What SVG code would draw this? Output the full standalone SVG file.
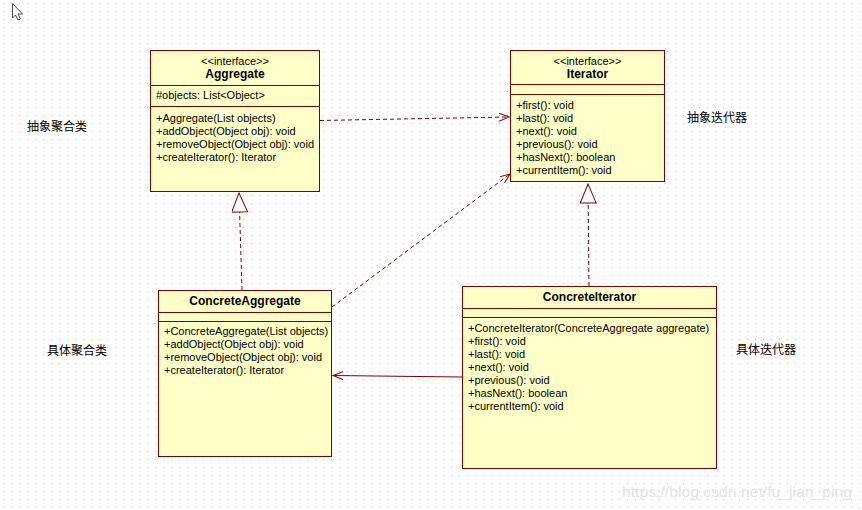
<svg xmlns="http://www.w3.org/2000/svg" width="862" height="510" viewBox="0 0 862 510">
<style>
.box{fill:#ffffc8;stroke:#800000;stroke-width:1}
.sep{stroke:#800000;stroke-width:1}
.t{font-family:"Liberation Sans",Arial,sans-serif;font-size:11px;fill:#000}
.b{font-weight:bold;text-anchor:middle;font-size:12px}
.c{text-anchor:middle}
.lbl{font-family:"Noto Sans CJK SC","Liberation Sans",sans-serif;font-size:12px;fill:#000}
.dash{fill:none;stroke:#800000;stroke-width:1;stroke-dasharray:4,3}
.solid{fill:none;stroke:#800000;stroke-width:1}
</style>
<defs>
<pattern id="grid" patternUnits="userSpaceOnUse" x="0" y="0" width="8" height="8">
<rect x="3" y="3" width="1" height="1" fill="#c4c4c4"/>
</pattern>
<marker id="open" markerUnits="userSpaceOnUse" markerWidth="12" markerHeight="10" refX="10" refY="4" orient="auto">
<path d="M0,0 L10,4 L0,8" fill="none" stroke="#800000" stroke-width="1"/>
</marker>
<marker id="tri" markerUnits="userSpaceOnUse" markerWidth="22" markerHeight="18" refX="20" refY="8" orient="auto">
<path d="M20,8 L1,0 L1,16 Z" fill="#ffffff" stroke="#800000" stroke-width="1"/>
</marker>
</defs>
<rect width="862" height="510" fill="#ffffff"/>
<rect width="862" height="510" fill="url(#grid)"/>
<polygon points="12.5,3.5 12.5,18 15.5,15 18,20 20.5,19 18,14 22.5,14" fill="#ffffff" stroke="#4a4a5a" stroke-width="1"/>

<g id="connectors">
<path class="dash" d="M320,120.5 L509,117" marker-end="url(#open)"/>
<path class="dash" d="M332,307 L510,174" marker-end="url(#open)"/>
<path class="dash" d="M242,290 L239,193" marker-end="url(#tri)"/>
<path class="dash" d="M589,286 L588,184" marker-end="url(#tri)"/>
<path class="solid" d="M462,377 L333,375.5" marker-end="url(#open)"/>
</g>

<g id="Aggregate">
<rect class="box" x="150.5" y="50.5" width="169" height="141"/>
<line class="sep" x1="150.5" y1="85.5" x2="319.5" y2="85.5"/>
<line class="sep" x1="150.5" y1="106.5" x2="319.5" y2="106.5"/>
<text class="t c" x="235" y="65">&lt;&lt;interface&gt;&gt;</text>
<text class="t b" x="235" y="77.5">Aggregate</text>
<text class="t" x="156" y="99">#objects: List&lt;Object&gt;</text>
<text class="t" x="156" y="121.5">+Aggregate(List objects)</text>
<text class="t" x="156" y="134.5">+addObject(Object obj): void</text>
<text class="t" x="156" y="147.5">+removeObject(Object obj): void</text>
<text class="t" x="156" y="160.5">+createIterator(): Iterator</text>
</g>

<g id="Iterator">
<rect class="box" x="510.5" y="50.5" width="154" height="131"/>
<line class="sep" x1="510.5" y1="84.5" x2="664.5" y2="84.5"/>
<line class="sep" x1="510.5" y1="94.5" x2="664.5" y2="94.5"/>
<text class="t c" x="587.5" y="65">&lt;&lt;interface&gt;&gt;</text>
<text class="t b" x="587.5" y="77.5">Iterator</text>
<text class="t" x="516" y="108.5">+first(): void</text>
<text class="t" x="516" y="121.5">+last(): void</text>
<text class="t" x="516" y="134.5">+next(): void</text>
<text class="t" x="516" y="147.5">+previous(): void</text>
<text class="t" x="516" y="160.5">+hasNext(): boolean</text>
<text class="t" x="516" y="173.5">+currentItem(): void</text>
</g>

<g id="ConcreteAggregate">
<rect class="box" x="158.5" y="290.5" width="173" height="166"/>
<line class="sep" x1="158.5" y1="312.5" x2="331.5" y2="312.5"/>
<line class="sep" x1="158.5" y1="321.5" x2="331.5" y2="321.5"/>
<text class="t b" x="245" y="305">ConcreteAggregate</text>
<text class="t" x="164" y="335">+ConcreteAggregate(List objects)</text>
<text class="t" x="164" y="348">+addObject(Object obj): void</text>
<text class="t" x="164" y="361">+removeObject(Object obj): void</text>
<text class="t" x="164" y="374">+createIterator(): Iterator</text>
</g>

<g id="ConcreteIterator">
<rect class="box" x="462.5" y="286.5" width="254" height="182"/>
<line class="sep" x1="462.5" y1="308.5" x2="716.5" y2="308.5"/>
<line class="sep" x1="462.5" y1="317.5" x2="716.5" y2="317.5"/>
<text class="t b" x="589.5" y="301">ConcreteIterator</text>
<text class="t" x="468" y="331.5">+ConcreteIterator(ConcreteAggregate aggregate)</text>
<text class="t" x="468" y="344.5">+first(): void</text>
<text class="t" x="468" y="357.5">+last(): void</text>
<text class="t" x="468" y="370.5">+next(): void</text>
<text class="t" x="468" y="383.5">+previous(): void</text>
<text class="t" x="468" y="396.5">+hasNext(): boolean</text>
<text class="t" x="468" y="409.5">+currentItem(): void</text>
</g>

<g id="labels">
<text class="lbl" x="27" y="131">抽象聚合类</text>
<text class="lbl" x="687" y="122">抽象迭代器</text>
<text class="lbl" x="47" y="355">具体聚合类</text>
<text class="lbl" x="736" y="354">具体迭代器</text>
</g>
<text x="622" y="497" font-family="'Liberation Sans',Arial,sans-serif" font-size="14" fill="#e4e4e4" textLength="230" lengthAdjust="spacingAndGlyphs">https://blog.csdn.net/fu_jian_ping</text>
</svg>
